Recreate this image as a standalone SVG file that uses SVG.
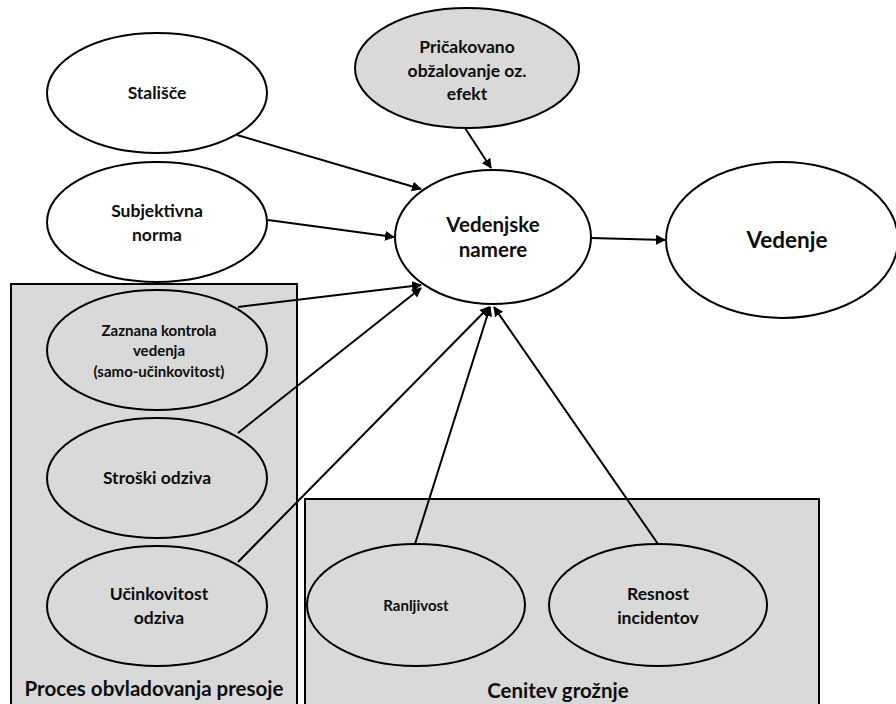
<svg xmlns="http://www.w3.org/2000/svg" width="896" height="704" viewBox="0 0 896 704">
  <style>
    .node { stroke: #000; stroke-width: 2; }
    .white { fill: #fff; }
    .grey { fill: #d9d9d9; }
    .box { fill: #d9d9d9; stroke: #000; stroke-width: 2; }
    text { font-family: Lato, "Open Sans", "Liberation Sans", sans-serif; font-weight: bold; fill: #0d0d0d; text-anchor: middle; }
    .s13 { font-size: 15px; }
    .s15 { font-size: 17.5px; }
    .s18 { font-size: 20.5px; }
    .s20 { font-size: 22.5px; }
    .edge { stroke: #000; stroke-width: 2; fill: none; marker-end: url(#arrow); }
  </style>
  <defs>
    <marker id="arrow" viewBox="0 0 10 10" refX="9" refY="5" markerWidth="5" markerHeight="5" orient="auto" markerUnits="strokeWidth">
      <path d="M0,0 L10,5 L0,10 z" fill="#000"/>
    </marker>
  </defs>
  <rect width="896" height="704" fill="#fff"/>

  <!-- group boxes -->
  <g id="box-coping">
    <rect class="box" x="11" y="284" width="286" height="430"/>
    <text class="s18" x="154" y="696">Proces obvladovanja presoje</text>
  </g>
  <g id="box-threat">
    <rect class="box" x="305" y="499" width="514" height="215"/>
    <text class="s18" x="558" y="698">Cenitev grožnje</text>
  </g>

  <!-- connectors -->
  <g id="connectors">
    <line class="edge" x1="237" y1="135" x2="421" y2="189"/>
    <line class="edge" x1="268" y1="220" x2="394" y2="237"/>
    <line class="edge" x1="465" y1="128" x2="491" y2="168"/>
    <line class="edge" x1="238" y1="307" x2="421" y2="285"/>
    <line class="edge" x1="238" y1="433" x2="421" y2="288"/>
    <line class="edge" x1="238" y1="562" x2="489" y2="307"/>
    <line class="edge" x1="415" y1="544" x2="490" y2="307"/>
    <line class="edge" x1="658" y1="544" x2="494" y2="307"/>
    <line class="edge" x1="591" y1="238" x2="665" y2="240"/>
  </g>

  <g id="n-stalisce">
    <ellipse class="node white" cx="157" cy="93" rx="110" ry="60"/>
    <text class="s15" x="157" y="99">Stališče</text>
  </g>
  <g id="n-norma">
    <ellipse class="node white" cx="157" cy="222" rx="110" ry="60"/>
    <text class="s15" x="157" y="217">Subjektivna</text>
    <text class="s15" x="157" y="241">norma</text>
  </g>
  <g id="n-obzalovanje">
    <ellipse class="node grey" cx="467" cy="68" rx="112" ry="60"/>
    <text class="s15" x="467" y="53">Pričakovano</text>
    <text class="s15" x="467" y="77">obžalovanje oz.</text>
    <text class="s15" x="467" y="100">efekt</text>
  </g>
  <g id="n-namere">
    <ellipse class="node white" cx="493" cy="237" rx="98" ry="67"/>
    <text class="s18" x="493" y="232">Vedenjske</text>
    <text class="s18" x="493" y="257">namere</text>
  </g>
  <g id="n-vedenje">
    <ellipse class="node white" cx="782" cy="240" rx="116" ry="78"/>
    <text class="s20" x="787" y="248">Vedenje</text>
  </g>
  <g id="n-kontrola">
    <ellipse class="node grey" cx="157" cy="350" rx="110" ry="60"/>
    <text class="s13" x="159" y="336">Zaznana kontrola</text>
    <text class="s13" x="159" y="356">vedenja</text>
    <text class="s13" x="159" y="377">(samo-učinkovitost)</text>
  </g>
  <g id="n-stroski">
    <ellipse class="node grey" cx="157" cy="478" rx="110" ry="60"/>
    <text class="s15" x="157" y="484">Stroški odziva</text>
  </g>
  <g id="n-ucinkovitost">
    <ellipse class="node grey" cx="157" cy="606" rx="110" ry="60"/>
    <text class="s15" x="159" y="600">Učinkovitost</text>
    <text class="s15" x="159" y="624">odziva</text>
  </g>
  <g id="n-ranljivost">
    <ellipse class="node grey" cx="416" cy="605" rx="109" ry="61"/>
    <text class="s13" x="416" y="611">Ranljivost</text>
  </g>
  <g id="n-resnost">
    <ellipse class="node grey" cx="658" cy="605" rx="109" ry="61"/>
    <text class="s15" x="658" y="600">Resnost</text>
    <text class="s15" x="658" y="624">incidentov</text>
  </g>
</svg>
